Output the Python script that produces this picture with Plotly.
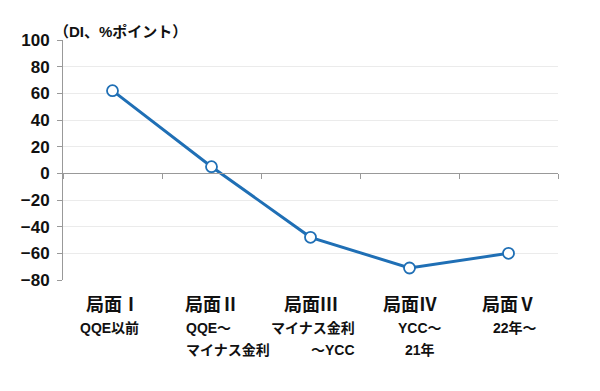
import plotly.graph_objects as go

categories = ["局面Ⅰ", "局面Ⅱ", "局面Ⅲ", "局面Ⅳ", "局面Ⅴ"]
values = [62, 5, -48, -71, -60]
sub_line1 = ["QQE以前", "QQE～", "マイナス金利", "YCC～", "22年～"]
sub_line2 = ["", "マイナス金利", "～YCC", "21年", ""]
y_ticks = [100, 80, 60, 40, 20, 0, -20, -40, -60, -80]
y_tick_labels = ["100", "80", "60", "40", "20", "0", "−20", "−40", "−60", "−80"]
y_title = "（DI、%ポイント）"

blue = "#1f6fb5"
cjk = "Liberation Sans, Noto Sans CJK JP"

fig = go.Figure()
fig.add_trace(go.Scatter(
    x=categories, y=values, mode="lines+markers",
    line=dict(color=blue, width=3),
    marker=dict(size=11, color="white", line=dict(color=blue, width=1.8)),
    cliponaxis=False, showlegend=False,
))

# per-category label styles (anchor, shift) for sub lines
sub_style = [("center", -3), ("left", -28), ("right", 46), ("center", 10), ("center", 6)]

ann = []
for i, c in enumerate(categories):
    ann.append(dict(x=c, xref="x", y=-0.104, yref="paper", text=c, showarrow=False,
                    xanchor="center", yanchor="middle",
                    font=dict(family=cjk, size=18, color="#111", weight="bold")))
    anchor, shift = sub_style[i]
    for j, t in enumerate([sub_line1[i], sub_line2[i]]):
        if not t:
            continue
        ann.append(dict(x=c, xref="x", y=-0.2 - 0.092 * j, yref="paper", text=t,
                        showarrow=False, xanchor=anchor, yanchor="middle", xshift=shift,
                        font=dict(family=cjk, size=14, color="#111", weight="bold")))
ann.append(dict(x=0, xref="paper", y=1.0, yref="paper", text=y_title, showarrow=False,
                xanchor="left", yanchor="middle", xshift=-11, yshift=9,
                font=dict(family=cjk, size=15, color="#111", weight="bold")))

fig.update_layout(
    width=600, height=391,
    margin=dict(l=55, r=50, t=32, b=119, autoexpand=False),
    paper_bgcolor="white", plot_bgcolor="white",
    annotations=ann,
    xaxis=dict(
        type="category", tickson="boundaries", showticklabels=False,
        showgrid=False, showline=True, linecolor="#999", linewidth=1,
        ticks="outside", ticklen=5, tickcolor="#999", automargin=False,
        anchor="free", position=80 / 180, range=[-0.5, 4.5],
    ),
    yaxis=dict(
        range=[-80, 100], tickvals=y_ticks, ticktext=y_tick_labels,
        showgrid=True, gridcolor="#ebebeb", gridwidth=1, zeroline=False,
        showline=True, linecolor="#999", linewidth=1, automargin=False,
        ticks="outside", ticklen=5, tickcolor="#999",
        tickfont=dict(family="Liberation Sans", size=17, color="#111", weight="bold"),
        ticklabelstandoff=4,
    ),
)

fig.write_html("out.html")
